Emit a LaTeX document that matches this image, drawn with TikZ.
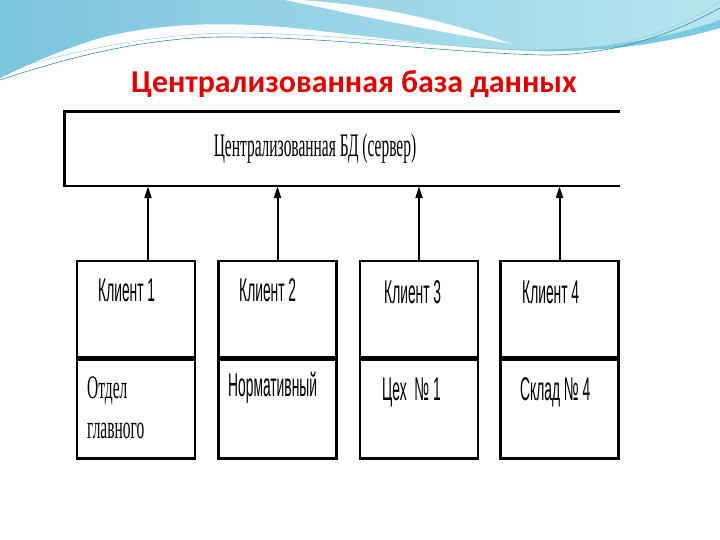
\documentclass[tikz,border=0pt]{standalone}
\usepackage{fontspec}
\setmainfont{Liberation Serif}
\newfontfamily\titlefont{Carlito}
\newfontfamily\narrowsans[FakeStretch=0.42]{Liberation Sans}
\newfontfamily\narrowserif[FakeStretch=0.47]{Liberation Serif}
\usetikzlibrary{arrows.meta, positioning}
\definecolor{waveleft}{RGB}{122,196,220}
\definecolor{waveright}{RGB}{184,230,240}
\definecolor{waveband}{RGB}{80,185,215}
\definecolor{waveline}{RGB}{60,140,160}
\definecolor{titlered}{RGB}{224,0,0}

\begin{document}
\begin{tikzpicture}[x=1bp, y=-1bp,
every node/.style={inner sep=0pt},
box/.style={rectangle, draw=black, line width=2.4bp, minimum width=118bp},
client/.style={box, minimum height=96bp},
dept/.style={box, minimum height=99bp},
lbl/.style={anchor=west, font=\narrowsans\fontsize{33}{40}\selectfont},
lblserif/.style={anchor=west, align=left, font=\narrowserif\fontsize{33}{40}\selectfont},
arrow/.style={-{Triangle[length=12bp, width=7bp]}, line width=2bp}
]
\useasboundingbox (0,0) rectangle (720,540);
% Wave at the top
\shade[left color=waveleft, right color=waveright] (0,0) -- (720,0) -- (720,28)
  .. controls (660,45) and (600,52) .. (540,51)
  .. controls (460,49) and (400,40) .. (320,31)
  .. controls (250,22) and (170,20) .. (100,38)
  .. controls (60,50) and (25,66) .. (0,78) -- cycle;
\fill[waveband, opacity=0.6] (470,47) .. controls (560,55) and (650,45) .. (720,20)
  -- (720,28) .. controls (660,45) and (600,52) .. (540,51) .. controls (510,50) and (490,49) .. (470,47) -- cycle;
\fill[white] (300,0) .. controls (380,5) and (450,22) .. (512,44)
  .. controls (440,32) and (370,18) .. (285,0) -- cycle;
\draw[waveline, line width=0.6bp] (0,80) .. controls (60,60) and (140,38) .. (220,37)
  .. controls (320,36) and (440,52) .. (540,55) .. controls (620,56) and (680,30) .. (720,8);
\draw[waveline!50, line width=0.5bp] (0,72) .. controls (70,52) and (150,34) .. (230,33)
  .. controls (330,33) and (450,48) .. (545,51) .. controls (625,52) and (685,25) .. (720,2);
% Title
\node[font=\titlefont\bfseries\fontsize{32}{36}\selectfont, text=titlered] (title) at (354,84) {Централизованная база данных};
% Server
\node[minimum width=555bp, minimum height=74bp] (srv) at (342.5,149) {};
\draw[line width=2.6bp] (srv.north east) -- (srv.north west) -- (srv.south west) -- (srv.south east);
\node[font=\narrowserif\fontsize{33}{36}\selectfont] (srvlbl) at (315,149) {Централизованная БД (сервер)};
% Clients
\node[client] (cl1) at (136,309) {};
\node[client] (cl2) at (277.5,309) {};
\node[client] (cl3) at (419,309) {};
\node[client] (cl4) at (559.5,309) {};
\node[dept, below=0pt of cl1] (dp1) {};
\node[dept, below=0pt of cl2] (dp2) {};
\node[dept, below=0pt of cl3] (dp3) {};
\node[dept, below=0pt of cl4] (dp4) {};
% Labels
\node[lbl] (t1) at (98,290) {Клиент 1};
\node[lbl] (t2) at (239,290) {Клиент 2};
\node[lbl] (t3) at (384,292) {Клиент 3};
\node[lbl] (t4) at (522,292) {Клиент 4};
\node[lblserif] (d1) at (87,408) {Отдел\\главного};
\node[lbl] (d2) at (228,388) {Нормативный};
\node[lbl] (d3) at (382,392) {Цех\ \ № 1};
\node[lbl] (d4) at (520,392) {Склад № 4};
% Arrows
\draw[arrow] ([xshift=12bp]cl1.north) -- ([xshift=12bp]cl1.north |- srv.south);
\draw[arrow] (cl2.north) -- (cl2.north |- srv.south);
\draw[arrow] (cl3.north) -- (cl3.north |- srv.south);
\draw[arrow] (cl4.north) -- (cl4.north |- srv.south);
\end{tikzpicture}
\end{document}
